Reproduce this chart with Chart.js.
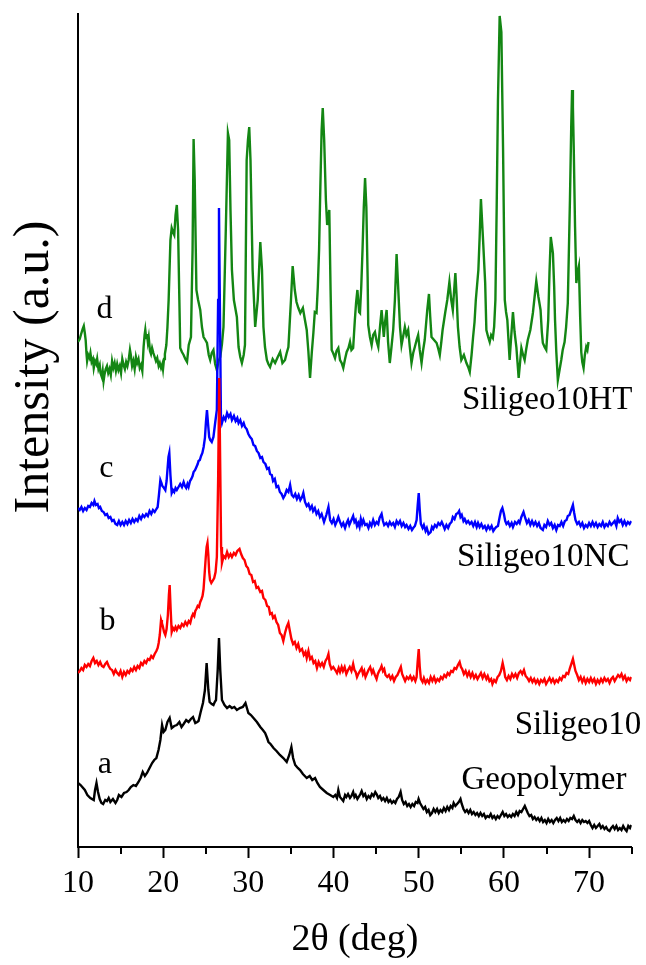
<!DOCTYPE html>
<html>
<head>
<meta charset="utf-8">
<script src="https://cdn.jsdelivr.net/npm/chart.js@4.4.1/dist/chart.umd.min.js"></script>
<style>
  html, body { margin: 0; padding: 0; background: #fff; }
  canvas { display: block; }
</style>
</head>
<body>
<canvas id="xrd" width="646" height="965"></canvas>
<script>
// XRD patterns, stacked; intensities in arbitrary units (offsets included).
const majorTicks = [10, 20, 30, 40, 50, 60, 70];
const minorTicks = [15, 25, 35, 45, 55, 65, 75];

// a — Geopolymer: [2θ, intensity]
const geopolymer = [
  [10.0,64],[10.3,62],[10.5,60],[10.8,57],[11.1,52],[11.45,49],[11.85,47],[12.0,57],[12.17,64],[12.35,55],
  [12.55,48],[12.75,44],[12.95,43],[13.2,47],[13.4,46],[13.6,49],[13.8,45],[14.1,48],[14.4,44],[14.6,47],
  [14.8,52],[15.1,50],[15.4,54],[15.7,55],[15.95,57],[16.2,60],[16.5,62],[16.8,61],[17.1,65],[17.35,69],
  [17.6,75],[17.85,71],[18.1,74],[18.4,79],[18.7,84],[18.95,87],[19.2,89],[19.45,97],[19.67,107],[19.87,122],
  [20.05,115],[20.25,117],[20.5,125],[20.76,129],[21.0,119],[21.3,121],[21.6,122],[21.9,125],[22.15,120],[22.4,123],
  [22.7,127],[22.98,125],[23.25,128],[23.5,130],[23.77,124],[24.0,125],[24.15,126],[24.4,135],[24.67,144],[24.9,157],
  [25.1,184],[25.3,157],[25.45,145],[25.7,143],[25.9,142],[26.05,145],[26.2,147],[26.4,177],[26.55,209],[26.7,177],
  [26.9,147],[27.2,142],[27.5,139],[27.8,141],[28.07,139],[28.35,140],[28.65,137],[29.0,139],[29.35,140],[29.66,144],
  [30.0,134],[30.3,132],[30.6,129],[31.0,125],[31.4,120],[31.7,117],[31.97,114],[32.2,109],[32.36,105],[32.6,103],
  [32.95,99],[33.3,96],[33.7,92],[34.1,89],[34.5,85],[34.8,92],[35.05,100],[35.25,89],[35.5,82],[35.8,79],
  [36.07,77],[36.4,73],[36.85,69],[37.2,71],[37.5,67],[37.83,69],[38.1,64],[38.4,60],[38.8,57],[39.2,54],
  [39.6,52],[39.97,50],[40.2,52],[40.4,49],[40.56,57],[40.75,50],[40.95,48],[41.14,46],[41.35,52],[41.5,50],
  [41.7,53],[41.93,49],[42.1,51],[42.3,55],[42.45,50],[42.6,52],[42.8,48],[42.95,50],[43.15,53],[43.3,56],
  [43.5,51],[43.7,53],[43.9,48],[44.1,51],[44.3,49],[44.5,53],[44.7,51],[44.9,55],[45.05,53],[45.25,49],
  [45.45,51],[45.65,47],[45.85,49],[46.05,46],[46.25,49],[46.45,45],[46.65,47],[46.85,44],[47.05,46],[47.25,44],
  [47.45,48],[47.65,50],[47.87,55],[48.05,47],[48.25,43],[48.45,45],[48.65,41],[48.85,43],[49.05,40],[49.25,43],
  [49.45,41],[49.65,45],[49.85,44],[49.98,48],[50.15,44],[50.35,41],[50.55,38],[50.75,40],[50.95,35],[51.15,37],
  [51.35,32],[51.55,34],[51.75,38],[51.95,35],[52.15,38],[52.35,34],[52.55,37],[52.75,35],[52.95,39],[53.15,36],
  [53.35,40],[53.55,37],[53.75,41],[53.95,39],[54.1,44],[54.3,41],[54.5,43],[54.7,45],[54.9,48],[55.05,43],
  [55.25,38],[55.45,35],[55.65,37],[55.85,34],[56.05,37],[56.25,33],[56.45,35],[56.65,32],[56.85,34],[57.05,31],
  [57.25,34],[57.45,31],[57.65,33],[57.85,29],[58.05,31],[58.25,30],[58.45,33],[58.65,29],[58.85,31],[59.05,28],
  [59.25,31],[59.45,29],[59.65,32],[59.85,35],[60.05,31],[60.25,33],[60.45,30],[60.65,32],[60.85,30],[61.05,33],
  [61.25,31],[61.45,35],[61.65,32],[61.85,36],[62.05,35],[62.25,38],[62.45,41],[62.6,38],[62.8,34],[63.0,31],
  [63.2,32],[63.4,28],[63.6,30],[63.8,27],[64.0,29],[64.2,26],[64.4,29],[64.6,25],[64.8,27],[65.0,24],
  [65.2,28],[65.4,25],[65.6,27],[65.8,24],[66.0,27],[66.2,29],[66.4,26],[66.6,29],[66.8,25],[67.0,27],
  [67.2,25],[67.4,28],[67.6,26],[67.8,29],[68.0,28],[68.2,31],[68.4,27],[68.6,25],[68.8,27],[69.0,24],
  [69.2,27],[69.4,25],[69.6,26],[69.8,24],[70.0,26],[70.2,22],[70.4,19],[70.6,22],[70.8,19],[71.0,21],
  [71.2,23],[71.4,19],[71.6,21],[71.8,18],[72.0,20],[72.2,17],[72.4,16],[72.6,19],[72.8,21],[73.0,18],
  [73.2,21],[73.4,17],[73.6,19],[73.8,17],[74.0,21],[74.2,18],[74.4,16],[74.6,21],[74.8,19],[74.95,22]
];

// b — Siligeo10
const siligeo10 = [
  [10.0,174],[10.2,176],[10.4,179],[10.6,177],[10.8,182],[11.0,180],[11.2,183],[11.4,181],[11.6,186],[11.8,189],
  [12.0,184],[12.2,186],[12.4,182],[12.6,185],[12.8,181],[13.0,180],[13.2,183],[13.4,185],[13.6,181],[13.8,178],
  [14.0,177],[14.2,173],[14.4,177],[14.6,174],[14.8,172],[15.0,176],[15.2,170],[15.4,175],[15.6,172],[15.8,176],
  [16.0,174],[16.2,178],[16.4,176],[16.6,180],[16.8,177],[17.0,181],[17.2,179],[17.4,184],[17.6,182],[17.8,186],
  [18.0,184],[18.2,188],[18.4,187],[18.6,191],[18.8,189],[19.0,193],[19.2,196],[19.35,199],[19.47,204],[19.6,212],
  [19.75,227],[19.85,224],[19.95,221],[20.1,215],[20.25,212],[20.4,218],[20.55,232],[20.67,252],[20.76,262],[20.88,237],
  [21.0,215],[21.15,219],[21.3,217],[21.45,220],[21.6,217],[21.8,221],[22.0,219],[22.2,223],[22.4,221],[22.6,225],
  [22.8,222],[23.0,226],[23.18,224],[23.35,230],[23.5,233],[23.65,231],[23.77,236],[23.9,238],[24.05,241],[24.2,240],
  [24.35,245],[24.5,248],[24.62,251],[24.74,258],[24.88,275],[25.0,290],[25.1,300],[25.2,304],[25.3,292],[25.4,275],
  [25.5,267],[25.65,264],[25.8,266],[25.99,269],[26.15,275],[26.3,290],[26.45,367],[26.58,469],[26.7,377],[26.8,300],
  [26.9,284],[27.1,291],[27.3,289],[27.5,295],[27.7,290],[27.9,293],[28.07,290],[28.3,294],[28.5,292],[28.7,296],
  [28.96,298],[29.15,293],[29.35,289],[29.55,287],[29.75,281],[29.95,279],[30.15,273],[30.35,272],[30.55,265],[30.75,266],
  [30.95,259],[31.15,260],[31.4,255],[31.6,256],[31.77,249],[32.0,247],[32.2,241],[32.4,240],[32.55,233],[32.75,234],
  [32.9,229],[33.1,231],[33.3,225],[33.5,222],[33.7,214],[33.9,212],[34.1,206],[34.3,214],[34.5,220],[34.7,224],
  [34.85,217],[35.05,208],[35.25,203],[35.45,205],[35.65,199],[35.85,203],[36.05,196],[36.3,198],[36.5,192],[36.7,195],
  [36.85,189],[37.05,196],[37.25,188],[37.45,190],[37.65,184],[37.85,186],[38.05,179],[38.25,185],[38.45,181],[38.65,184],
  [38.85,180],[39.05,186],[39.25,189],[39.4,193],[39.55,183],[39.75,178],[39.97,180],[40.2,177],[40.4,174],[40.6,179],
  [40.76,175],[40.95,180],[41.1,176],[41.3,180],[41.5,173],[41.7,177],[41.9,180],[42.1,176],[42.3,183],[42.45,177],
  [42.6,175],[42.75,170],[42.9,173],[43.1,176],[43.3,179],[43.45,173],[43.6,176],[43.75,170],[43.9,173],[44.1,177],
  [44.3,180],[44.5,174],[44.65,177],[44.85,172],[45.05,168],[45.2,173],[45.35,176],[45.5,178],[45.64,181],[45.8,176],
  [45.95,178],[46.1,172],[46.3,170],[46.5,172],[46.7,168],[46.9,171],[47.1,166],[47.3,170],[47.5,172],[47.7,176],
  [47.9,180],[48.05,173],[48.2,170],[48.4,166],[48.6,170],[48.8,168],[49.0,171],[49.2,167],[49.4,170],[49.6,166],
  [49.75,170],[49.87,185],[50.0,198],[50.12,180],[50.25,168],[50.45,165],[50.6,169],[50.8,164],[51.0,167],[51.2,164],
  [51.4,170],[51.6,166],[51.8,170],[52.0,165],[52.2,168],[52.4,166],[52.6,170],[52.8,168],[53.0,172],[53.2,170],
  [53.4,174],[53.6,172],[53.8,176],[54.0,175],[54.2,179],[54.4,178],[54.6,182],[54.8,185],[54.95,180],[55.1,178],
  [55.3,173],[55.5,176],[55.7,171],[55.9,175],[56.1,170],[56.3,174],[56.5,169],[56.7,172],[56.9,168],[57.1,171],
  [57.3,174],[57.5,169],[57.7,173],[57.94,168],[58.1,171],[58.3,166],[58.5,168],[58.65,163],[58.85,167],[59.05,165],
  [59.25,170],[59.45,172],[59.65,176],[59.85,184],[60.0,178],[60.15,170],[60.35,167],[60.55,171],[60.75,168],[60.95,173],
  [61.15,170],[61.35,173],[61.55,169],[61.75,174],[61.95,176],[62.15,173],[62.35,177],[62.55,171],[62.75,169],[62.95,166],
  [63.15,169],[63.35,165],[63.55,168],[63.75,164],[63.95,167],[64.15,163],[64.35,167],[64.55,165],[64.75,168],[64.95,163],
  [65.15,166],[65.35,169],[65.55,165],[65.75,168],[65.95,164],[66.15,167],[66.35,165],[66.55,169],[66.75,167],[66.95,171],
  [67.15,170],[67.35,174],[67.55,173],[67.75,179],[67.95,184],[68.1,188],[68.25,182],[68.4,176],[68.6,172],[68.8,167],
  [69.0,170],[69.2,165],[69.4,169],[69.6,164],[69.8,168],[70.0,165],[70.2,169],[70.4,165],[70.6,168],[70.8,163],
  [71.0,167],[71.2,164],[71.4,168],[71.6,165],[71.8,169],[72.0,166],[72.2,168],[72.4,164],[72.6,168],[72.8,170],
  [73.0,166],[73.2,169],[73.4,172],[73.6,170],[73.8,173],[74.0,168],[74.2,171],[74.4,166],[74.6,169],[74.8,167],
  [74.95,170]
];

// c — Siligeo10NC
const siligeo10NC = [
  [10.0,339],[10.2,337],[10.4,340],[10.6,336],[10.8,339],[11.0,337],[11.2,341],[11.4,340],[11.6,344],[11.8,342],
  [11.93,346],[12.1,342],[12.3,343],[12.45,339],[12.6,340],[12.8,336],[13.0,335],[13.2,332],[13.4,333],[13.6,329],
  [13.8,330],[14.0,326],[14.2,327],[14.4,323],[14.6,322],[14.8,326],[15.0,322],[15.2,325],[15.4,322],[15.6,326],
  [15.8,323],[16.0,327],[16.2,324],[16.4,328],[16.6,325],[16.8,328],[17.0,326],[17.2,331],[17.4,328],[17.6,332],
  [17.8,330],[18.0,333],[18.2,331],[18.4,336],[18.6,333],[18.8,337],[19.0,335],[19.2,338],[19.35,340],[19.5,352],
  [19.67,367],[19.8,364],[19.9,361],[20.1,359],[20.25,357],[20.4,366],[20.5,377],[20.62,390],[20.72,394],[20.85,372],
  [21.0,354],[21.15,357],[21.3,355],[21.45,359],[21.6,357],[21.8,360],[22.0,363],[22.2,360],[22.4,365],[22.55,361],
  [22.7,359],[22.85,363],[22.98,360],[23.15,366],[23.3,368],[23.45,371],[23.57,375],[23.75,377],[23.9,380],[24.05,383],
  [24.15,386],[24.3,387],[24.45,391],[24.6,394],[24.75,400],[24.9,409],[25.02,425],[25.14,437],[25.25,425],[25.4,410],
  [25.52,407],[25.7,405],[25.9,410],[26.1,424],[26.3,437],[26.45,547],[26.55,639],[26.65,547],[26.78,430],[26.9,424],
  [27.1,430],[27.3,427],[27.5,434],[27.7,430],[27.9,433],[28.07,427],[28.3,431],[28.5,426],[28.7,429],[28.85,424],
  [29.05,427],[29.25,421],[29.45,424],[29.6,420],[29.8,418],[30.0,413],[30.2,410],[30.4,408],[30.6,402],[30.8,401],
  [31.0,396],[31.2,394],[31.4,389],[31.6,390],[31.77,385],[32.0,383],[32.2,378],[32.4,379],[32.55,373],[32.75,372],
  [32.9,366],[33.1,368],[33.3,360],[33.5,361],[33.7,355],[33.9,353],[34.1,349],[34.3,352],[34.5,357],[34.7,355],
  [34.9,362],[35.1,352],[35.3,350],[35.5,353],[35.7,348],[35.9,352],[36.1,347],[36.3,350],[36.45,354],[36.65,345],
  [36.85,341],[37.05,343],[37.25,338],[37.45,341],[37.6,336],[37.8,339],[38.0,333],[38.2,336],[38.4,330],[38.6,333],
  [38.88,325],[39.15,332],[39.4,340],[39.6,327],[39.8,324],[40.0,328],[40.2,322],[40.4,326],[40.56,330],[40.76,325],
  [40.95,321],[41.14,324],[41.35,319],[41.54,324],[41.7,327],[41.85,322],[42.05,326],[42.3,331],[42.45,325],[42.6,327],
  [42.75,321],[42.9,324],[43.05,320],[43.2,328],[43.35,323],[43.5,327],[43.7,322],[43.9,323],[44.1,319],[44.27,324],
  [44.45,321],[44.65,327],[44.85,322],[45.05,325],[45.25,323],[45.4,329],[45.64,333],[45.8,326],[45.95,322],[46.2,324],
  [46.4,321],[46.6,325],[46.8,322],[47.0,324],[47.2,320],[47.4,326],[47.6,323],[47.8,326],[48.0,321],[48.2,324],
  [48.4,320],[48.57,322],[48.8,318],[49.0,321],[49.2,317],[49.35,319],[49.55,321],[49.75,327],[49.88,342],[50.0,354],
  [50.12,337],[50.25,323],[50.45,319],[50.6,322],[50.8,316],[50.95,319],[51.15,313],[51.4,315],[51.55,320],[51.7,318],
  [51.9,322],[52.1,320],[52.3,324],[52.5,322],[52.7,325],[52.86,322],[53.05,318],[53.25,322],[53.45,319],[53.64,323],
  [53.85,325],[54.0,330],[54.2,328],[54.4,333],[54.6,334],[54.74,336],[54.9,330],[55.05,332],[55.25,326],[55.4,328],
  [55.6,324],[55.8,326],[56.0,323],[56.2,325],[56.4,321],[56.6,325],[56.8,320],[56.96,324],[57.15,320],[57.35,323],
  [57.55,319],[57.75,321],[57.94,317],[58.15,321],[58.35,318],[58.55,321],[58.75,316],[58.9,318],[59.1,320],[59.3,321],
  [59.5,330],[59.65,336],[59.82,339],[60.0,333],[60.15,326],[60.3,323],[60.5,325],[60.7,321],[60.9,324],[61.06,320],
  [61.3,325],[61.5,323],[61.7,326],[61.85,324],[62.05,330],[62.3,335],[62.5,329],[62.7,324],[62.9,327],[63.1,322],
  [63.3,326],[63.5,322],[63.7,325],[63.9,321],[64.1,324],[64.3,319],[64.57,317],[64.75,322],[64.95,320],[65.15,326],
  [65.36,322],[65.55,324],[65.75,319],[65.95,322],[66.15,317],[66.35,322],[66.55,321],[66.75,325],[66.95,321],[67.15,326],
  [67.35,327],[67.5,331],[67.7,332],[67.9,337],[68.1,342],[68.25,334],[68.4,327],[68.6,323],[68.8,325],[69.0,321],
  [69.2,324],[69.4,319],[69.6,322],[69.8,320],[70.0,324],[70.2,321],[70.4,325],[70.6,321],[70.8,324],[71.0,320],
  [71.2,323],[71.4,321],[71.6,325],[71.8,320],[72.0,323],[72.2,321],[72.4,325],[72.6,322],[72.8,324],[73.0,326],
  [73.2,321],[73.36,329],[73.55,325],[73.75,327],[73.95,322],[74.15,326],[74.35,322],[74.55,325],[74.75,323],[74.95,326]
];

// d — Siligeo10HT
const siligeo10HT = [
  [10.0,505],[10.2,508],[10.37,513],[10.55,518],[10.68,521],[10.8,514],[10.9,507],[11.0,493],[11.07,486],[11.2,492],
  [11.35,489],[11.46,494],[11.6,485],[11.75,488],[11.85,479],[12.0,486],[12.15,483],[12.25,488],[12.4,478],[12.55,482],
  [12.64,474],[12.8,470],[12.9,476],[13.0,466],[13.1,472],[13.25,478],[13.4,481],[13.55,474],[13.7,478],[13.85,472],
  [14.0,486],[14.15,479],[14.3,484],[14.45,476],[14.6,483],[14.75,477],[14.9,481],[15.05,474],[15.2,488],[15.35,482],
  [15.5,478],[15.65,485],[15.8,481],[15.95,487],[16.1,497],[16.2,492],[16.35,481],[16.5,486],[16.65,478],[16.8,490],
  [16.95,484],[17.1,488],[17.25,479],[17.4,482],[17.55,476],[17.7,500],[17.82,512],[17.9,517],[18.0,509],[18.1,513],
  [18.2,505],[18.3,510],[18.45,496],[18.57,493],[18.7,499],[18.85,494],[19.0,490],[19.15,486],[19.3,489],[19.47,481],
  [19.6,484],[19.75,479],[19.9,483],[19.98,478],[20.1,488],[20.2,493],[20.37,502],[20.5,520],[20.64,547],[20.85,607],
  [21.0,619],[21.15,615],[21.3,612],[21.45,632],[21.6,642],[21.75,617],[21.9,547],[22.0,499],[22.2,495],[22.4,492],
  [22.6,488],[22.8,485],[23.0,502],[23.26,510],[23.45,597],[23.57,708],[23.7,667],[23.9,557],[24.1,547],[24.35,537],
  [24.55,520],[24.74,510],[24.95,507],[25.14,504],[25.35,492],[25.52,487],[25.7,494],[25.9,497],[26.1,483],[26.3,477],
  [26.5,486],[26.7,490],[26.9,503],[27.08,520],[27.35,617],[27.6,714],[27.75,707],[27.9,637],[28.07,577],[28.3,547],
  [28.65,530],[28.85,500],[29.05,490],[29.24,484],[29.45,492],[29.6,502],[29.8,687],[29.95,707],[30.1,720],[30.25,687],
  [30.5,577],[30.8,520],[31.1,547],[31.4,605],[31.6,577],[31.77,520],[31.95,500],[32.17,487],[32.35,483],[32.55,480],
  [32.85,488],[33.14,484],[33.45,490],[33.73,495],[34.0,484],[34.3,487],[34.5,494],[34.7,500],[35.0,547],[35.2,581],
  [35.45,557],[35.65,545],[35.87,539],[36.1,534],[36.4,539],[36.6,529],[36.85,517],[37.05,495],[37.24,469],[37.45,495],
  [37.63,514],[37.8,535],[38.0,534],[38.15,560],[38.3,597],[38.45,660],[38.6,717],[38.73,739],[38.9,707],[39.1,647],
  [39.25,622],[39.5,637],[39.65,557],[39.78,497],[39.95,494],[40.17,489],[40.35,496],[40.56,499],[40.76,487],[40.95,484],
  [41.14,479],[41.35,488],[41.54,495],[41.75,499],[41.93,505],[42.1,497],[42.3,499],[42.5,527],[42.65,545],[42.8,557],
  [43.0,535],[43.1,534],[43.25,560],[43.4,597],[43.55,640],[43.7,669],[43.85,640],[44.0,570],[44.07,522],[44.27,510],
  [44.47,502],[44.65,512],[44.86,515],[45.05,506],[45.25,500],[45.45,520],[45.64,537],[45.9,510],[46.05,525],[46.23,537],
  [46.4,505],[46.6,484],[46.8,500],[47.0,517],[47.2,547],[47.4,593],[47.6,557],[47.8,520],[47.98,502],[48.2,512],
  [48.37,520],[48.55,512],[48.76,517],[48.95,500],[49.15,484],[49.35,494],[49.54,500],[49.75,507],[49.93,512],[50.12,497],
  [50.33,484],[50.5,496],[50.7,507],[51.0,537],[51.2,553],[51.35,530],[51.5,510],[51.8,507],[52.1,504],[52.3,498],
  [52.47,492],[52.65,505],[52.8,517],[53.1,534],[53.35,547],[53.6,565],[53.8,548],[54.0,537],[54.15,556],[54.3,574],
  [54.45,550],[54.6,520],[54.8,500],[55.0,487],[55.3,492],[55.6,484],[55.8,480],[55.99,475],[56.2,492],[56.37,509],
  [56.55,525],[56.7,547],[57.0,577],[57.15,610],[57.3,648],[57.55,607],[57.8,564],[57.94,517],[58.15,510],[58.33,505],
  [58.5,512],[58.7,509],[58.85,520],[59.0,547],[59.15,640],[59.3,747],[59.5,831],[59.7,815],[59.9,697],[60.1,547],
  [60.25,535],[60.4,527],[60.67,487],[60.85,510],[61.06,535],[61.25,515],[61.46,500],[61.6,484],[61.73,469],[61.9,485],
  [62.05,499],[62.25,492],[62.43,487],[62.6,497],[62.8,507],[63.1,517],[63.4,534],[63.6,550],[63.8,566],[64.05,550],
  [64.3,537],[64.45,515],[64.57,504],[64.77,500],[64.97,497],[65.2,527],[65.35,575],[65.5,610],[65.75,594],[65.9,560],
  [66.0,527],[66.15,495],[66.33,467],[66.55,478],[66.73,487],[66.9,497],[67.12,505],[67.3,520],[67.5,544],[67.75,647],
  [67.9,720],[68.0,757],[68.1,740],[68.2,697],[68.35,620],[68.5,564],[68.65,575],[68.8,581],[68.95,530],[69.08,495],
  [69.2,485],[69.35,479],[69.5,492],[69.66,500],[69.8,497],[69.93,505]
];

// Curve tags and sample names, anchored in data units: [text, 2θ, intensity, align]
const curveTags = [
  ['d', 13.1, 529, 'center'],
  ['c', 13.34, 370, 'center'],
  ['b', 13.46, 217, 'center'],
  ['a', 13.16, 74, 'center']
];
const sampleNames = [
  ['Siligeo10HT', 75.08, 438, 'right'],
  ['Siligeo10NC', 74.73, 281, 'right'],
  ['Siligeo10', 61.26, 113, 'left'],
  ['Geopolymer', 74.38, 58, 'right']
];

const SERIF = "'Liberation Serif', 'Times New Roman', serif";

function toPoints(rows) {
  return rows.map(r => ({ x: r[0], y: r[1] }));
}

function lineSet(label, rows, color) {
  return {
    label,
    data: toPoints(rows),
    borderColor: color,
    borderWidth: 2.4,
    pointRadius: 0,
    tension: 0,
    fill: false
  };
}

const decorations = {
  id: 'decorations',
  afterDraw(chart) {
    const { ctx, scales: { x, y } } = chart;
    ctx.save();
    // minor ticks on the 2θ axis
    ctx.strokeStyle = '#000';
    ctx.lineWidth = 2;
    const base = x.top;
    minorTicks.forEach(v => {
      const px = Math.round(x.getPixelForValue(v));
      ctx.beginPath();
      ctx.moveTo(px, base);
      ctx.lineTo(px, base + 7);
      ctx.stroke();
    });
    ctx.fillStyle = '#000';
    ctx.textBaseline = 'alphabetic';
    ctx.font = '32px ' + SERIF;
    curveTags.forEach(([t, vx, vy, al]) => {
      ctx.textAlign = al;
      ctx.fillText(t, x.getPixelForValue(vx), y.getPixelForValue(vy));
    });
    ctx.font = '33px ' + SERIF;
    sampleNames.forEach(([t, vx, vy, al]) => {
      ctx.textAlign = al;
      ctx.fillText(t, x.getPixelForValue(vx), y.getPixelForValue(vy));
    });
    // vertical axis title
    ctx.translate(35, 367);
    ctx.rotate(-Math.PI / 2);
    ctx.textAlign = 'center';
    ctx.textBaseline = 'middle';
    ctx.font = '50px ' + SERIF;
    ctx.fillText('Intensity (a.u.)', 0, 0);
    ctx.restore();
  }
};

new Chart(document.getElementById('xrd'), {
  type: 'line',
  data: {
    datasets: [
      lineSet('Geopolymer', geopolymer, '#000000'),
      lineSet('Siligeo10', siligeo10, '#ff0000'),
      lineSet('Siligeo10NC', siligeo10NC, '#0000ff'),
      lineSet('Siligeo10HT', siligeo10HT, '#138613')
    ]
  },
  options: {
    responsive: false,
    animation: false,
    events: [],
    layout: { padding: { left: 78, top: 14, right: 14.3, bottom: 0 } },
    plugins: { legend: { display: false }, tooltip: { enabled: false } },
    scales: {
      x: {
        type: 'linear',
        min: 10,
        max: 75,
        afterBuildTicks: s => { s.ticks = majorTicks.map(v => ({ value: v })); },
        afterFit: s => { s.height = 118; },
        ticks: {
          color: '#000',
          font: { family: SERIF, size: 32 },
          padding: 6,
          maxRotation: 0,
          autoSkip: false,
          includeBounds: false
        },
        grid: {
          display: true,
          drawOnChartArea: false,
          drawTicks: true,
          tickLength: 11,
          tickWidth: 2,
          tickColor: '#000'
        },
        border: { display: true, color: '#000', width: 2 },
        title: {
          display: true,
          text: '2θ (deg)',
          color: '#000',
          font: { family: SERIF, size: 38 },
          padding: { top: 0, bottom: 2 }
        }
      },
      y: {
        type: 'linear',
        min: 0,
        max: 833,
        afterFit: s => { s.width = 0; },
        ticks: { display: false },
        grid: { display: false, drawTicks: false },
        border: { display: true, color: '#000', width: 2 }
      }
    }
  },
  plugins: [decorations]
});
</script>
</body>
</html>
